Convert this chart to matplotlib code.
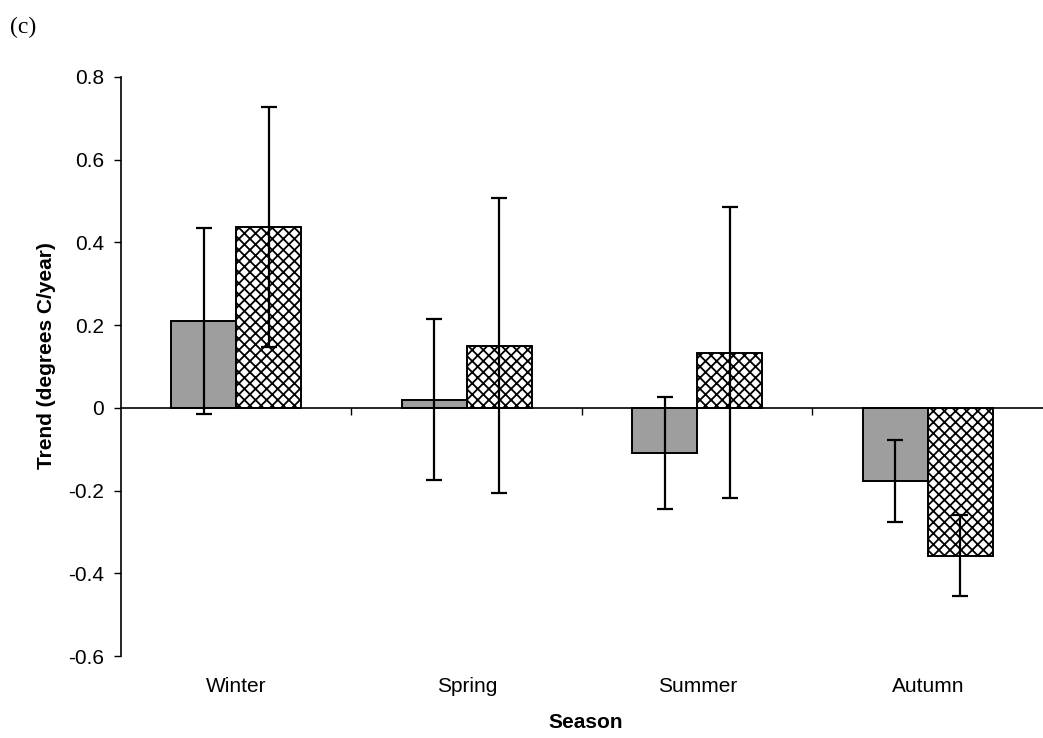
import numpy as np
import matplotlib
matplotlib.use("Agg")
from matplotlib import pyplot as plt

seasons = ["Winter", "Spring", "Summer", "Autumn"]
# two series per season: grey (solid) and cross-hatched, with error bar half-widths
grey_trend = [0.21, 0.02, -0.11, -0.177]
grey_err = [0.225, 0.195, 0.135, 0.099]
hatch_trend = [0.436, 0.15, 0.133, -0.358]
hatch_err = [0.29, 0.357, 0.352, 0.098]
yticks = [-0.6, -0.4, -0.2, 0, 0.2, 0.4, 0.6, 0.8]
ytick_labels = ["-0.6", "-0.4", "-0.2", "0", "0.2", "0.4", "0.6", "0.8"]

plt.rcParams['font.family'] = ['Liberation Sans', 'DejaVu Sans']
plt.rcParams['hatch.linewidth'] = 1.3

fig = plt.figure(figsize=(10.43, 7.38), dpi=100)
ax = fig.add_axes([0.116, 0.111, 0.884, 0.785])

x = np.arange(1, len(seasons) + 1)
w = 0.283
err_kw = dict(ecolor="black", elinewidth=1.6, capsize=6, capthick=1.6)

ax.bar(x - w / 2, grey_trend, w, yerr=grey_err, color="#9e9e9e",
       edgecolor="black", linewidth=1.4, error_kw=err_kw, zorder=2)
ax.bar(x + w / 2, hatch_trend, w, yerr=hatch_err, color="white",
       edgecolor="black", hatch="xxx", linewidth=1.4, error_kw=err_kw, zorder=2)

ax.set_xlim(0.5, 4.5)
ax.set_ylim(-0.6, 0.8)
ax.set_yticks(yticks)
ax.set_yticklabels(ytick_labels, fontsize=15)
ax.tick_params(axis="y", direction="out", length=5, width=1, pad=7)

# x axis sits on the zero line, with small ticks between the groups
ax.spines["bottom"].set_position(("data", 0))
ax.spines["top"].set_visible(False)
ax.spines["right"].set_visible(False)
ax.spines["left"].set_linewidth(1.2)
ax.spines["bottom"].set_linewidth(1.2)
ax.set_xticks([1.5, 2.5, 3.5])
ax.set_xticklabels([])
ax.tick_params(axis="x", direction="out", length=5, width=1)

# category names below the axes
shift = matplotlib.transforms.ScaledTranslation(0, -0.30, fig.dpi_scale_trans)
for xi, name in zip(x, seasons):
    ax.text(xi, -0.6, name, transform=ax.transData + shift, fontsize=15,
            ha="center", va="center")

fig.text(0.562, 1 - 723 / 738, "Season", fontsize=15, fontweight="bold",
         ha="center", va="center")
fig.text(47 / 1043, 0.5 * (0.111 + 0.896) + 0.015, "Trend (degrees C/year)",
         fontsize=15, fontweight="bold", rotation=90, ha="center", va="center")
fig.text(10 / 1043, 1 - 27 / 738, "(c)", fontsize=17, ha="left", va="center",
         family=["Liberation Serif", "DejaVu Serif"])

plt.savefig("out.png", dpi=100)
